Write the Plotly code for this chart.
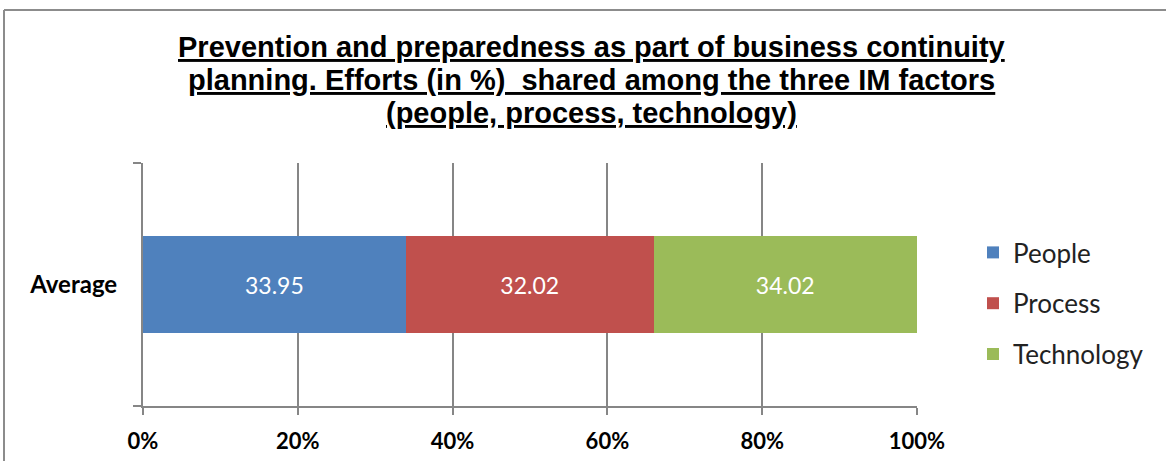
import plotly.graph_objects as go

categories = ["Average"]
series_names = ["People", "Process", "Technology"]
people = [33.95]
process = [32.02]
technology = [34.02]
colors = ["#4F81BD", "#C0504D", "#9BBB59"]
x_tickvals = [0, 20, 40, 60, 80, 100]
x_ticktext = ["0%", "20%", "40%", "60%", "80%", "100%"]

title_lines = [
    "Prevention and preparedness as part of business continuity",
    "planning. Efforts (in %)&nbsp; shared among the three IM factors",
    "(people, process, technology)",
]

fig = go.Figure()
for i, (name, vals) in enumerate(zip(series_names, [people, process, technology])):
    fig.add_trace(go.Bar(
        y=categories, x=vals, name=name, orientation="h",
        marker=dict(color=colors[i], line=dict(width=0)),
        texttemplate="%{x:.2f}", textposition="inside", insidetextanchor="middle",
        textfont=dict(color="white", size=23, family="Lato"),
        legendgroup=name,
    ))

# plot area spans pixels x 143..917, y 163..406
def px_x(x):
    return (x - 143) / 774

def px_y(y):
    return (406 - y) / 243

title_centers = [47, 80, 113]
annotations = [
    dict(text=f"<b><u>{t}</u></b>", xref="paper", yref="paper",
         x=px_x(591), y=px_y(cy), xanchor="center", yanchor="middle",
         showarrow=False, font=dict(family="Liberation Sans", size=29, color="black"))
    for t, cy in zip(title_lines, title_centers)
]

fig.update_layout(
    width=1166, height=461,
    barmode="stack", bargap=0.6,
    paper_bgcolor="white", plot_bgcolor="white",
    margin=dict(l=143, r=249, t=163, b=55),
    annotations=annotations,
    showlegend=True,
    legend=dict(x=px_x(973), xanchor="left", y=px_y(229), yanchor="top",
                traceorder="grouped", tracegroupgap=14,
                font=dict(family="Lato", size=26, color="#222"),
                itemwidth=30, bgcolor="rgba(0,0,0,0)"),
    xaxis=dict(range=[0, 100], tickvals=x_tickvals, ticktext=x_ticktext,
               showgrid=True, gridcolor="#868686", gridwidth=2,
               showline=True, linecolor="#868686", linewidth=2,
               ticks="outside", ticklen=7, tickwidth=2, tickcolor="#868686",
               tickfont=dict(family="Lato", size=22, color="black", weight="bold"),
               ticklabelstandoff=8, automargin=False,
               zeroline=False, fixedrange=True),
    yaxis=dict(range=[-0.5, 0.5], type="category", tickson="boundaries",
               showline=True, linecolor="#868686", linewidth=2,
               ticks="outside", ticklen=8, tickwidth=2, tickcolor="#868686",
               tickfont=dict(family="Lato", size=24, color="black", weight="bold"),
               showgrid=False, ticklabelstandoff=19, automargin=False),
    shapes=[
        dict(type="line", xref="paper", yref="paper", x0=px_x(4), x1=px_x(1180),
             y0=px_y(10), y1=px_y(10), line=dict(color="#8C8C8C", width=2)),
        dict(type="line", xref="paper", yref="paper", x0=px_x(4), x1=px_x(4),
             y0=px_y(10), y1=px_y(480), line=dict(color="#8C8C8C", width=2)),
    ],
)

fig.write_html("out.html")
